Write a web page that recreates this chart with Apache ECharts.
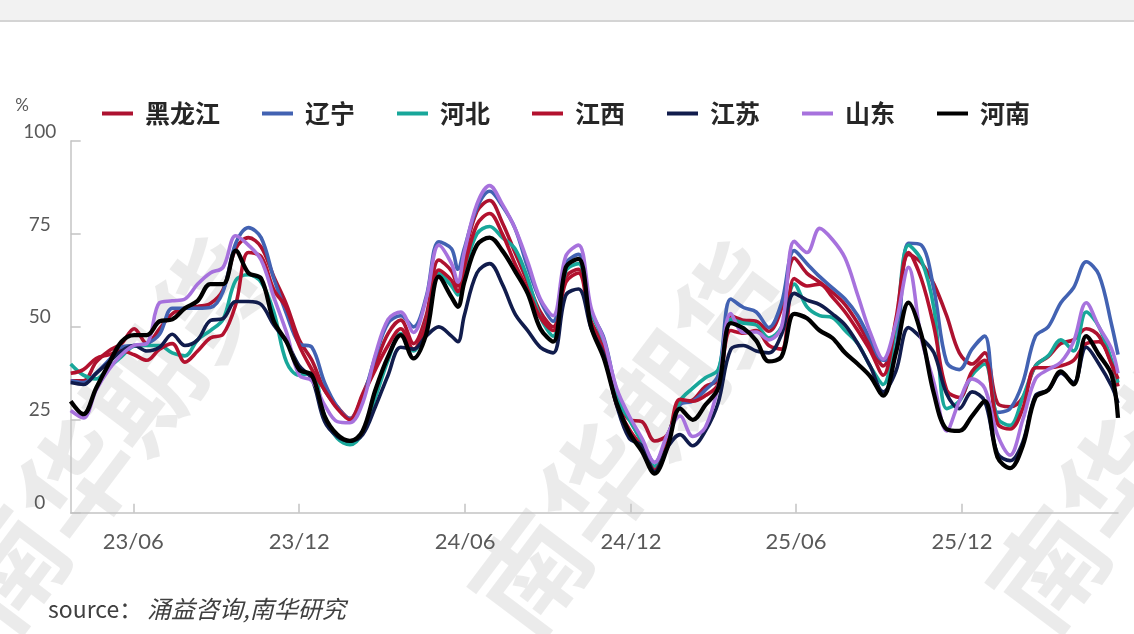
<!DOCTYPE html>
<html>
<head>
<meta charset="utf-8">
<script src="https://cdn.jsdelivr.net/npm/echarts@6/dist/echarts.min.js"></script>
<style>
  html, body { margin: 0; padding: 0; background: #fff; }
  #chart { width: 1134px; height: 634px; }
</style>
</head>
<body>
<div id="chart"></div>
<script>
// biweekly observation dates (plus one extra week around the May 2024 dip)
const dates = [
  '2023-03-24', '2023-04-07', '2023-04-21', '2023-05-05', '2023-05-19', '2023-06-02', '2023-06-16', '2023-06-30',
  '2023-07-14', '2023-07-28', '2023-08-11', '2023-08-25', '2023-09-08', '2023-09-22', '2023-10-06', '2023-10-20',
  '2023-11-03', '2023-11-17', '2023-12-01', '2023-12-15', '2023-12-29', '2024-01-12', '2024-01-26', '2024-02-09',
  '2024-02-23', '2024-03-08', '2024-03-22', '2024-04-05', '2024-04-19', '2024-05-03', '2024-05-17', '2024-05-24',
  '2024-05-31', '2024-06-14', '2024-06-28', '2024-07-12', '2024-07-26', '2024-08-09', '2024-08-23', '2024-09-06',
  '2024-09-20', '2024-10-04', '2024-10-18', '2024-11-01', '2024-11-15', '2024-11-29', '2024-12-13', '2024-12-27',
  '2025-01-10', '2025-01-24', '2025-02-07', '2025-02-21', '2025-03-07', '2025-03-21', '2025-04-04', '2025-04-18',
  '2025-05-02', '2025-05-16', '2025-05-30', '2025-06-13', '2025-06-27', '2025-07-11', '2025-07-25', '2025-08-08',
  '2025-08-22', '2025-09-05', '2025-09-19', '2025-10-03', '2025-10-17', '2025-10-31', '2025-11-14', '2025-11-28',
  '2025-12-12', '2025-12-26', '2026-01-09', '2026-01-23', '2026-02-06', '2026-02-20', '2026-03-06', '2026-03-20',
  '2026-04-03', '2026-04-17', '2026-05-01', '2026-05-15', '2026-05-22'
];

const heilongjiang = [
  35.5, 35.5, 40.5, 43.5, 45.5, 49.5, 45.5, 49.5, 53.5, 55,
  55.5, 56.3, 60, 71, 74, 71.5, 63.5, 56, 46.5, 41,
  33, 28.5, 25.3, 32, 40, 48.2, 51.8, 45.5, 53, 68, 65,
  61,
  69, 81, 84, 78, 70, 62, 54, 50, 63.5, 65.5,
  51.5, 45, 31, 25, 24.5, 19.3, 21, 29.5, 30.3, 34,
  35.7, 53, 51.8, 51.5, 48.8, 55, 68.5, 64.4, 62, 59.3,
  56, 51, 45, 39.5, 50, 69.5, 67.3, 61.5, 53, 43,
  40, 43, 29.5, 28.5, 31, 39.5, 42, 45.5, 46.5, 49.5, 47.5, 40,
  34
];
const liaoning = [
  35.5, 35, 37.5, 41, 44.5, 45, 45.5, 48, 55, 55,
  55, 55.2, 59.5, 72.5, 76.7, 74, 63, 53.5, 45.5, 44.5,
  35, 28.5, 25.3, 31, 42, 51, 53, 50, 58, 72.9, 71,
  65.5,
  71, 82, 86.5, 82.5, 76.5, 66, 57, 51.5, 67, 69.5,
  54.2, 47, 33, 25.5, 19, 13.5, 20.5, 29, 30, 33,
  37, 57.5, 55.2, 54, 49.8, 56.5, 70.5, 67, 63.5, 60.5,
  57.5, 53, 46.5, 41, 44, 72.5, 72, 60, 40.5, 38.5,
  44, 47.5, 27, 28, 35, 47.5, 50, 56.5, 60.5, 67.5, 64, 50.5,
  42.5
];
const hebei = [
  40, 37, 36, 39, 42, 44.8, 45, 45, 43, 42.2,
  46.5, 49, 52, 62.5, 64, 62, 54, 40.5, 37, 37.5,
  26, 20, 18.3, 21.5, 31, 41, 48.2, 43.5, 51, 64.4, 61,
  58.6,
  65, 75, 77, 74, 71, 63, 52.5, 47.5, 65, 67,
  54, 46, 31, 25, 19, 12.5, 19.5, 30, 33.5, 36.3,
  38.5, 52, 51, 50.5, 47, 50, 61.5, 55.4, 53, 52.5,
  49, 45.5, 39.3, 34.5, 50, 72, 68, 55, 28, 30,
  37, 40, 25.5, 23.5, 31, 39.5, 42.2, 46.5, 43.5, 54, 50, 41,
  35
];
const jiangxi = [
  37.5, 38.5, 41.5, 42.5, 43.5, 42.5, 41, 44, 45.5, 40.5,
  43.5, 47, 48, 56, 70, 68.9, 60, 55, 45, 38.5,
  33, 28, 25, 31.5, 38.5, 45, 49.5, 44, 51, 65.3, 62.5,
  59.5,
  66, 77.5, 80.5, 75, 67, 60, 52.5, 49, 62, 64.5,
  50, 44, 29, 22.5, 17.5, 11.5, 18.5, 30.5, 30, 31.5,
  34.5, 49, 48.3, 49, 45, 44, 63, 61, 61.5, 58,
  54, 49, 43.5, 37, 52, 70, 63, 50, 33, 31,
  38, 41, 24, 22.5, 28, 39, 39, 39.5, 41, 45.5, 46, 40,
  36
];
const jiangsu = [
  35, 34.5, 37.5, 40.5, 43.5, 45, 43.5, 44.5, 48, 45,
  46.5, 51.7, 52.2, 56.8, 56.8, 56, 50.5, 46, 39.5, 36,
  24.5, 20.5, 19.3, 21, 28.5, 37, 44.5, 44, 47.5, 50, 47.5,
  46,
  53, 64.5, 67, 61.5, 53.5, 49, 44.5, 43, 58.5, 60.2,
  49.5, 42.5, 29, 20, 18, 11, 17.5, 21, 18, 22,
  29.5, 44, 45, 43.5, 43, 48, 59, 57.2, 56, 53.5,
  50.5, 45.5, 39.3, 32.5, 38, 49.8, 47, 43, 32, 28,
  32.5, 30, 16, 14, 19, 31.5, 33, 37.5, 35, 44.5, 40, 34,
  29.5
];
const shandong = [
  27.5, 25.5, 33, 38.5, 42.5, 45, 45.5, 56.5, 57, 57.5,
  61.5, 64.5, 66, 74.5, 72, 68, 58, 48.5, 37, 35.5,
  29, 24.5, 24.2, 29.5, 42.5, 52, 54, 48.5, 57.5, 72, 67,
  62,
  70, 83, 88, 83, 76.5, 67.5, 57.5, 53, 69, 72,
  55, 46.5, 33.5, 26, 20, 13.5, 21, 26, 20.5, 23,
  34, 53.6, 48.5, 48.6, 46.5, 50, 73, 70, 76.5, 73.5,
  68.5, 58.5, 48.3, 41.3, 51, 66, 47, 35, 22, 30,
  36, 33.5, 21, 15.5, 25, 36, 38.5, 40.5, 46, 56.5, 50, 44,
  37.5
];
const henan = [
  30, 26.5, 33.5, 40, 46, 47.8, 47.8, 51.5, 52, 55,
  57, 61.5, 61.5, 70.5, 64.5, 63, 51.5, 46, 38.5, 37,
  26, 21, 19.3, 22, 33, 42, 47.8, 41.5, 48, 63.5, 58,
  55.4,
  62, 72, 74, 70.5, 65, 59, 49.5, 46, 66, 68.3,
  50, 41.5, 29.5, 21.5, 16.5, 10.5, 17.5, 28, 25, 29,
  33.5, 51, 49.6, 46.3, 40.7, 42, 53.5, 52.3, 49, 47,
  43, 40, 36.6, 31.5, 43, 56.5, 48, 32, 22.5, 22,
  26, 30, 15, 12, 18, 31, 33, 38, 34.5, 47.5, 42.5, 37,
  25.5
];

const seriesNames = ['黑龙江', '辽宁', '河北', '江西', '江苏', '山东', '河南'];
const seriesValues = [heilongjiang, liaoning, hebei, jiangxi, jiangsu, shandong, henan];
const seriesColors = ['#ad1230', '#4262b2', '#18a79a', '#b3112e', '#111c4c', '#a772dd', '#000000'];

const tickDates = ['2023-06-01', '2023-12-01', '2024-06-01', '2024-12-01', '2025-06-01', '2025-12-01'];
const tickLabels = ['23/06', '23/12', '24/06', '24/12', '25/06', '25/12'];

function toTime(s) {
  const p = s.split('-');
  return new Date(+p[0], +p[1] - 1, +p[2]).getTime();
}

const times = dates.map(toTime);
const tickTimes = tickDates.map(toTime);
const axisColor = '#c4c4c4';
const labelFont = 'Lato, "Noto Sans", sans-serif';
const cjkFont = '"Noto Sans CJK SC", sans-serif';

const chart = echarts.init(document.getElementById('chart'));

const watermarks = [[-25, 614], [497, 618], [1015, 614]].map(function (p) {
  return {
    type: 'text',
    x: p[0],
    y: p[1],
    rotation: 53 * Math.PI / 180,
    z: -10,
    silent: true,
    style: {
      text: '南华期货',
      fontSize: 112,
      fontWeight: 'bold',
      fontFamily: cjkFont,
      fill: 'rgba(0,0,0,0.08)',
      align: 'left',
      verticalAlign: 'middle'
    }
  };
});

const option = {
  animation: false,
  grid: { left: 70.7, right: 16, top: 141, bottom: 121.3 },
  legend: {
    left: 97,
    top: 96,
    icon: 'rect',
    itemWidth: 31,
    itemHeight: 4,
    itemGap: 42,
    textStyle: {
      fontSize: 25,
      fontWeight: 'bold',
      color: '#262626',
      fontFamily: cjkFont,
      padding: [0, 0, 0, 7]
    },
    data: seriesNames
  },
  xAxis: {
    type: 'value',
    min: times[0],
    max: times[times.length - 1],
    axisLine: { lineStyle: { color: axisColor, width: 1.5 } },
    axisTick: {
      show: true,
      inside: true,
      length: 9,
      customValues: tickTimes,
      lineStyle: { color: axisColor, width: 1.5 }
    },
    axisLabel: {
      customValues: tickTimes,
      formatter: function (v) { return tickLabels[tickTimes.indexOf(v)] || ''; },
      fontSize: 22,
      color: '#595959',
      fontFamily: labelFont,
      margin: 18
    },
    splitLine: { show: false }
  },
  yAxis: {
    type: 'value',
    min: 0,
    max: 100,
    interval: 25,
    axisLine: { show: true, lineStyle: { color: axisColor, width: 1.5 } },
    axisTick: { show: true, inside: true, length: 10, lineStyle: { color: axisColor, width: 1.5 } },
    axisLabel: {
      align: 'center',
      verticalAlign: 'bottom',
      margin: 31,
      fontSize: 19,
      color: '#595959',
      fontFamily: labelFont
    },
    splitLine: { show: false }
  },
  graphic: [
    { type: 'rect', shape: { x: 0, y: 0, width: 1134, height: 20 }, style: { fill: '#f2f2f2' }, z: -20 },
    { type: 'rect', shape: { x: 0, y: 20, width: 1134, height: 2 }, style: { fill: '#d4d4d4' }, z: -20 },
    ...watermarks,
    {
      type: 'text', x: 22, y: 106,
      style: { text: '%', fontSize: 17, fill: '#595959', fontFamily: labelFont, align: 'center', verticalAlign: 'middle' }
    },
    {
      type: 'text', x: 48, y: 609,
      style: { text: 'source：', fontSize: 23, fill: '#404040', fontFamily: cjkFont, align: 'left', verticalAlign: 'middle' }
    },
    {
      type: 'text', x: 147, y: 609,
      style: { text: '涌益咨询,南华研究', fontSize: 24, fontStyle: 'italic', fill: '#404040', fontFamily: cjkFont, align: 'left', verticalAlign: 'middle' }
    }
  ],
  series: seriesNames.map(function (name, i) {
    return {
      name: name,
      type: 'line',
      data: times.map(function (t, j) { return [t, seriesValues[i][j]]; }),
      showSymbol: false,
      symbol: 'none',
      smooth: 0.35,
      lineStyle: { width: i === 6 ? 4.3 : 3.6, color: seriesColors[i] },
      itemStyle: { color: seriesColors[i] },
      emphasis: { disabled: true }
    };
  })
};

chart.setOption(option);
</script>
</body>
</html>
